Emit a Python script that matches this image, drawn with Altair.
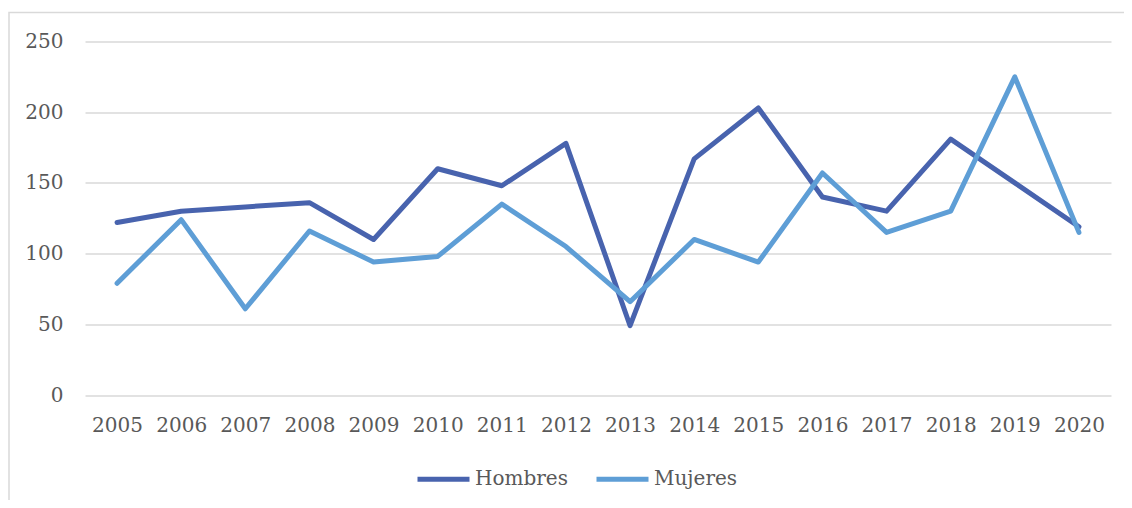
import altair as alt
import pandas as pd

years = [str(y) for y in range(2005, 2021)]
hombres = [122, 130, 133, 136, 110, 160, 148, 178, 49, 167, 203, 140, 130, 181, 150, 119]
mujeres = [79, 124, 61, 116, 94, 98, 135, 105, 66, 110, 94, 157, 115, 130, 225, 115]
series = ["Hombres", "Mujeres"]
colors = ["#4863AE", "#5E9ED6"]

rows = []
for y, h, m in zip(years, hombres, mujeres):
    rows.append({"year": y, "serie": "Hombres", "value": h})
    rows.append({"year": y, "serie": "Mujeres", "value": m})
df = pd.DataFrame(rows)

FONT = "DejaVu Serif"

frame = alt.Chart(pd.DataFrame({"a": [0]})).mark_rect(
    fill="transparent", stroke="#d9d9d9", strokeWidth=1.5
).encode(
    x=alt.value(-76), x2=alt.value(1080), y=alt.value(-29), y2=alt.value(520)
)

lines = alt.Chart(df).mark_line(strokeWidth=5, strokeCap="round", strokeJoin="round").encode(
    x=alt.X("year:O", sort=years, title=None,
            scale=alt.Scale(type="point", padding=0.5),
            axis=alt.Axis(labelAngle=0, ticks=False, domain=False, labelPadding=20,
                          labelFont=FONT, labelFontSize=20, labelColor="#595959")),
    y=alt.Y("value:Q", title=None,
            scale=alt.Scale(domain=[0, 250]),
            axis=alt.Axis(values=[0, 50, 100, 150, 200, 250], ticks=False, domain=False,
                          labelPadding=22, labelFont=FONT, labelFontSize=20,
                          labelColor="#595959", gridColor="#d9d9d9", gridWidth=1.5)),
    color=alt.Color("serie:N", sort=series, title=None,
                    scale=alt.Scale(domain=series, range=colors),
                    legend=alt.Legend(orient="none", legendX=330, legendY=409,
                                      direction="horizontal", symbolType="stroke",
                                      symbolSize=2704, symbolStrokeWidth=5,
                                      labelFont=FONT, labelFontSize=20,
                                      labelColor="#595959", labelOffset=3,
                                      columnPadding=18)),
)

chart = alt.layer(frame, lines).properties(
    width=1026, height=353.5,
    autosize=alt.AutoSizeParams(type="none"),
    padding={"left": 77, "top": 33.5, "right": 13, "bottom": 105},
    background="white",
).configure_view(stroke=None)

chart.save("out.html", embed_options={"renderer": "svg", "actions": False})
